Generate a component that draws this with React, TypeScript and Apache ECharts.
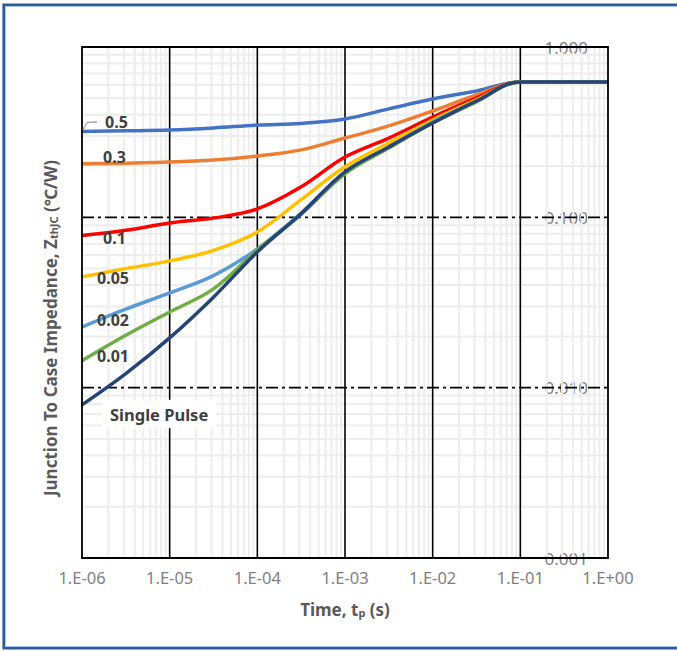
import React, { useEffect, useRef } from "react";
import * as echarts from "echarts";

// Pulse duration (s), half-decade steps
const TIME = [1e-6, 3.16e-6, 1e-5, 3.16e-5, 1e-4, 3.16e-4, 1e-3, 3.16e-3, 1e-2, 3.16e-2, 1e-1, 3.16e-1, 1];

// Zth(j-c) in °C/W for each duty cycle
const D_05 = [0.319, 0.322, 0.326, 0.335, 0.348, 0.356, 0.378, 0.433, 0.495, 0.552, 0.624, 0.624, 0.624];
const D_03 = [0.206, 0.208, 0.211, 0.217, 0.229, 0.249, 0.292, 0.344, 0.421, 0.523, 0.624, 0.624, 0.624];
const D_01 = [0.0783, 0.084, 0.0927, 0.099, 0.112, 0.151, 0.226, 0.292, 0.388, 0.502, 0.624, 0.624, 0.624];
const D_005 = [0.0447, 0.05, 0.0555, 0.064, 0.0821, 0.127, 0.198, 0.273, 0.373, 0.489, 0.624, 0.624, 0.624];
const D_002 = [0.0227, 0.0289, 0.036, 0.0455, 0.0653, 0.106, 0.183, 0.259, 0.363, 0.482, 0.624, 0.624, 0.624];
const D_001 = [0.0144, 0.0203, 0.0278, 0.038, 0.0644, 0.104, 0.18, 0.255, 0.358, 0.476, 0.624, 0.624, 0.624];
const SINGLE = [0.00793, 0.0121, 0.0196, 0.034, 0.0626, 0.105, 0.185, 0.259, 0.358, 0.482, 0.624, 0.624, 0.624];

const CURVE_NAMES = ["0.5", "0.3", "0.1", "0.05", "0.02", "0.01", "Single Pulse"];
const CURVE_DATA = [D_05, D_03, D_01, D_005, D_002, D_001, SINGLE];
const CURVE_COLORS = ["#4472C4", "#ED7D31", "#FF0000", "#FFC000", "#5B9BD5", "#70AD47", "#264478"];

const X_MIN = 1e-6;
const X_MAX = 1;
const Y_MIN = 1e-3;
const Y_MAX = 1;

const MAJOR_X = [1e-5, 1e-4, 1e-3, 1e-2, 1e-1];
const MAJOR_Y = [1e-2, 1e-1];

// 2..9 within each decade
const minorTicks = (lo: number, hi: number) => {
  const out: number[] = [];
  for (let d = lo; d < hi; d *= 10) {
    for (let k = 2; k <= 9; k++) out.push(+(d * k).toPrecision(3));
  }
  return out;
};
const MINOR_X = minorTicks(X_MIN, X_MAX);
const MINOR_Y = minorTicks(Y_MIN, Y_MAX);

const FONT = '"Noto Sans", "Open Sans", "Noto Sans CJK SC", sans-serif';

const vLines = (values: number[], stroke: string, width: number, dash: number[] | null, z: number) => ({
  type: "custom",
  silent: true,
  z,
  data: values.map((v) => [v, 1]),
  renderItem: (_p: any, api: any) => {
    const v = api.value(0);
    const a = api.coord([v, Y_MIN]);
    const b = api.coord([v, Y_MAX]);
    return {
      type: "line",
      shape: { x1: a[0], y1: a[1], x2: b[0], y2: b[1] },
      style: { stroke, lineWidth: width, lineDash: dash || undefined },
    };
  },
});

const hLines = (values: number[], stroke: string, width: number, dash: number[] | null, z: number) => ({
  type: "custom",
  silent: true,
  z,
  data: values.map((v) => [X_MIN, v]),
  renderItem: (_p: any, api: any) => {
    const v = api.value(1);
    const a = api.coord([X_MIN, v]);
    const b = api.coord([X_MAX, v]);
    return {
      type: "line",
      shape: { x1: a[0], y1: a[1], x2: b[0], y2: b[1] },
      style: { stroke, lineWidth: width, lineDash: dash || undefined },
    };
  },
});

const expLabel = (v: number) => {
  const e = Math.round(Math.log10(v));
  return "1.E" + (e < 0 ? "-" : "+") + String(Math.abs(e)).padStart(2, "0");
};

const curveLabel = (text: string, x: number, y: number) => ({
  type: "text",
  x,
  y,
  z: 50,
  style: {
    text,
    fill: "#404040",
    fontSize: 16,
    fontWeight: "bold",
    fontFamily: FONT,
    align: "left",
    verticalAlign: "middle",
  },
});

const subRich = {
  s: {
    fontSize: 11,
    fontWeight: "bold",
    fontFamily: FONT,
    fill: "#595959",
    verticalAlign: "bottom",
    lineHeight: 18,
    padding: [7, 0, 0, 0],
  },
};

export default function App() {
  const ref = useRef<HTMLDivElement>(null);

  useEffect(() => {
    if (!ref.current) return;
    const chart = echarts.init(ref.current, null, { renderer: "svg" });

    const curves = CURVE_NAMES.map((name, i) => ({
      type: "line",
      name,
      z: 10 + i,
      data: TIME.map((t, j) => [t, CURVE_DATA[i][j]]),
      showSymbol: false,
      smooth: 0.35,
      lineStyle: { color: CURVE_COLORS[i], width: 3.5 },
      itemStyle: { color: CURVE_COLORS[i] },
    }));

    chart.setOption({
      animation: false,
      backgroundColor: "#fff",
      grid: { left: 82, right: 69, top: 47, bottom: 93, containLabel: false },
      xAxis: {
        type: "log",
        logBase: 10,
        min: X_MIN,
        max: X_MAX,
        interval: 1,
        axisLine: { show: false },
        axisTick: { show: false },
        splitLine: { show: false },
        axisLabel: {
          formatter: expLabel,
          color: "#7F7F7F",
          fontSize: 16.5,
          fontFamily: FONT,
          margin: 11,
        },
      },
      yAxis: {
        type: "log",
        logBase: 10,
        min: Y_MIN,
        max: Y_MAX,
        interval: 1,
        position: "right",
        axisLine: { show: false },
        axisTick: { show: false },
        splitLine: { show: false },
        axisLabel: {
          inside: true,
          margin: 20,
          formatter: (v: number) => v.toFixed(3),
          color: "#7F7F7F",
          fontSize: 17,
          fontFamily: FONT,
        },
      },
      series: [
        vLines(MINOR_X, "#EDEDED", 2, null, 1),
        hLines(MINOR_Y, "#EDEDED", 2, null, 1),
        vLines(MAJOR_X, "#000", 1.6, null, 2),
        hLines(MAJOR_Y, "#000", 1.6, [12, 4, 3, 4], 2),
        ...curves,
      ],
      graphic: [
        {
          type: "rect",
          z: 40,
          silent: true,
          shape: { x: 82, y: 47, width: 526, height: 511 },
          style: { fill: "none", stroke: "#000", lineWidth: 1.8 },
        },
        {
          type: "rect",
          z: 60,
          silent: true,
          shape: { x: 3.7, y: 4.7, width: 700, height: 643.6 },
          style: { fill: "none", stroke: "#2F5C99", lineWidth: 2.6 },
        },
        {
          type: "rect",
          z: 60,
          silent: true,
          shape: { x: 5.5, y: 6.5, width: 700, height: 640 },
          style: { fill: "none", stroke: "#A9C4E8", lineWidth: 1 },
        },
        {
          type: "polyline",
          z: 50,
          silent: true,
          shape: { points: [[83, 130], [87, 122.5], [97, 122]] },
          style: { stroke: "#A6A6A6", lineWidth: 1.3, fill: "none" },
        },
        curveLabel("0.5", 105, 122),
        curveLabel("0.3", 103, 157),
        curveLabel("0.1", 103, 237.5),
        curveLabel("0.05", 97, 277.5),
        curveLabel("0.02", 97, 319.5),
        curveLabel("0.01", 97, 356),
        {
          type: "text",
          x: 102,
          y: 414,
          z: 50,
          style: {
            text: "Single Pulse",
            fill: "#404040",
            fontSize: 16.5,
            fontWeight: "bold",
            fontFamily: FONT,
            align: "left",
            verticalAlign: "middle",
            backgroundColor: "#fff",
            padding: [6, 8, 6, 8],
          },
        },
        {
          type: "text",
          x: 50,
          y: 328,
          rotation: Math.PI / 2,
          z: 50,
          style: {
            text: "Junction To Case Impedance, Z{s|thJC} (℃/W)",
            fill: "#595959",
            fontSize: 17,
            fontWeight: "bold",
            fontFamily: FONT,
            align: "center",
            verticalAlign: "middle",
            rich: subRich,
          },
        },
        {
          type: "text",
          x: 345,
          y: 609,
          z: 50,
          style: {
            text: "Time, t{s|p} (s)",
            fill: "#595959",
            fontSize: 17,
            fontWeight: "bold",
            fontFamily: FONT,
            align: "center",
            verticalAlign: "middle",
            rich: subRich,
          },
        },
      ],
    });

    return () => chart.dispose();
  }, []);

  return (
    <div
      ref={ref}
      style={{ position: "fixed", left: 0, top: 0, width: 677, height: 651 }}
    />
  );
}
